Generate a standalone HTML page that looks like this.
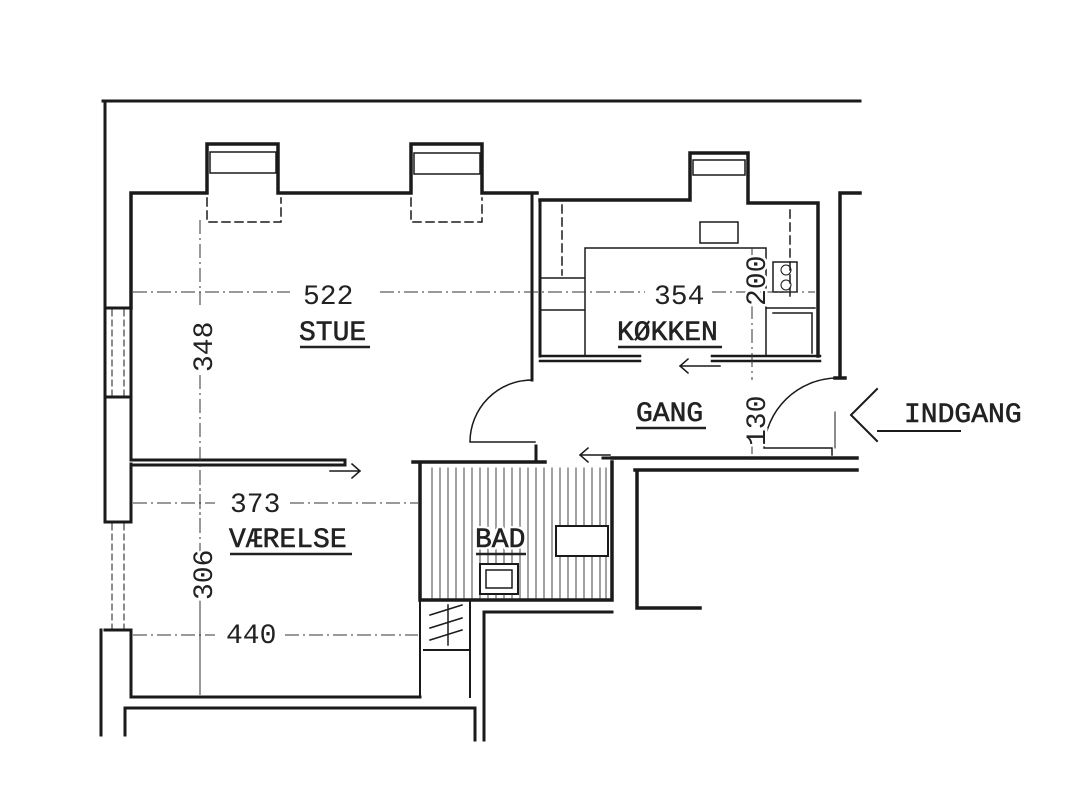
<!DOCTYPE html>
<html><head><meta charset="utf-8"><style>
html,body{margin:0;padding:0;background:#fff;}
svg{display:block;}
text{font-family:"Liberation Mono",monospace;fill:#222;}
</style></head><body>
<svg width="1070" height="798" viewBox="0 0 1070 798" xmlns="http://www.w3.org/2000/svg">
<g stroke="#1a1a1a" fill="none" stroke-linecap="square">
<path d="M103 101 H860" stroke-width="3"/>
<path d="M105 101 V308" stroke-width="3"/>
<path d="M131 308 V193 H207 V144 H278 V193 H411 V144 H482 V193 H537" stroke-width="3.5"/>
<path d="M210 152 H276 V173 H210 Z" stroke-width="1.5"/>
<path d="M414 153 H480 V174 H414 Z" stroke-width="1.5"/>
<path d="M207 198 V222 H281 V198 M411 198 V222 H482 V198" stroke-width="1.5" stroke-dasharray="8 5"/>
<path d="M105 308 H131 M105 397 H131 M105 308 V397 M131 308 V397" stroke-width="3"/>
<path d="M112 310 V395 M124 310 V395" stroke-width="1" stroke-dasharray="6 4"/>
<path d="M105 397 V522 M131 397 V460" stroke-width="3"/>
<path d="M105 522 H131 M105 630 H131 M131 464 V522" stroke-width="3"/>
<path d="M112 524 V628 M124 524 V628" stroke-width="1" stroke-dasharray="6 4"/>
<path d="M131 630 V697 M101 630 V735" stroke-width="3"/>
<path d="M131 460 H345 M131 465 H345 M345 460 V465" stroke-width="3"/>
<path d="M131 697 H420 M125 708 H475 M125 708 V735 M475 708 V740" stroke-width="3"/>
<path d="M420 600 V697 M470 600 V697 M420 600 H470 M424 650 H468" stroke-width="2"/>
<path d="M430 615 L462 605 M430 628 L462 618 M430 640 L462 630 M448 605 V645" stroke-width="1.5"/>
<path d="M484 612 V740" stroke-width="3"/>
<path d="M484 612 H612" stroke-width="3"/>
<path d="M420 465 V600 H612 V462 M413 462 H545" stroke-width="3.5"/>
<g stroke-width="1" stroke="#444">
<path d="M432 468 V598 M440 468 V598 M448 468 V598 M456 468 V598 M464 468 V598 M472 468 V598 M480 468 V598 M488 468 V598 M496 468 V598 M504 468 V598 M512 468 V598 M520 468 V598 M528 468 V598 M536 468 V598 M544 468 V598 M552 468 V598 M560 468 V598 M568 468 V598 M576 468 V598 M584 468 V598 M592 468 V598 M600 468 V598 M606 468 V598"/>
</g>
<rect x="556" y="526" width="52" height="30" fill="#fff" stroke-width="2"/>
<rect x="480" y="564" width="38" height="30" fill="#fff" stroke-width="2"/>
<rect x="486" y="570" width="26" height="18" stroke-width="1.5"/>
<path d="M532 193 V380 M540 200 V356" stroke-width="3"/>
<path d="M540 200 H690 V153 H748 V203 H818 V356" stroke-width="3.5"/>
<path d="M693 160 H745 V175 H693 Z" stroke-width="1.5"/>
<path d="M700 222 H738 V243 H700 Z" stroke-width="1.5"/>
<path d="M585 248 H766 V355 M585 248 V355 M540 278 H585 M540 310 H585" stroke-width="1.5"/>
<path d="M766 308 H815 M773 313 H812 V353" stroke-width="1.5"/>
<rect x="773" y="262" width="24" height="30" stroke-width="1.5"/>
<circle cx="786" cy="270" r="5" stroke-width="1"/><circle cx="786" cy="285" r="5" stroke-width="1"/>
<path d="M562 205 V275 M790 210 V300" stroke-width="1.5" stroke-dasharray="8 5"/>
<path d="M540 356 H640 M540 361 H640 M712 356 H820 M712 361 H820" stroke-width="2.5"/>
<path d="M840 193 V378 M840 193 H860 M835 378 H845" stroke-width="3.5"/>
<path d="M612 458 H857 M635 470 H857 M637 470 V608 H700" stroke-width="3.5"/>
<path d="M532 380 A62 62 0 0 0 470 442 H535" stroke-width="1.5"/>
<path d="M836 378 A74 74 0 0 0 764 448 H832 V455" stroke-width="1.5"/>
<path d="M835 412 V448" stroke-width="1"/>
<path d="M536 446 V460 M603 458 H612" stroke-width="3"/>
<path d="M330 471 H360 M352 464 L360 471 L352 478" stroke-width="1.5"/>
<path d="M580 455 H610 M588 448 L580 455 L588 462" stroke-width="1.5"/>
<path d="M680 366 H720 M688 359 L680 366 L688 373" stroke-width="1.5"/>
<path d="M877 389 L851 415 L877 441 M878 431 H960" stroke-width="2"/>
</g>
<g stroke="#333" stroke-width="1" fill="none" stroke-dasharray="14 4 2 4">
<path d="M133 292 H290 M380 292 H645 M712 292 H815"/>
<path d="M200 220 V305 M200 375 V695"/>
<path d="M133 503 H215 M290 503 H418"/>
<path d="M200 470 V530 M200 605 V695"/>
<path d="M133 635 H215 M285 635 H418"/>
<path d="M752 248 V258 M752 305 V380 M752 440 V460"/>
</g>
<g font-size="28" stroke="#fff" stroke-width="5" style="paint-order:stroke">
<text x="303" y="304">522</text>
<text x="654" y="304">354</text>
<text x="230" y="512">373</text>
<text x="226" y="643">440</text>
<text transform="translate(212 372) rotate(-90)">348</text>
<text transform="translate(212 600) rotate(-90)">306</text>
<text transform="translate(765 306) rotate(-90)">200</text>
<text transform="translate(765 446) rotate(-90)">130</text>
</g>
<g font-size="28" stroke="#222" stroke-width="0.6">
<text x="299" y="340">STUE</text>
<text x="617" y="340">KØKKEN</text>
<text x="636" y="421">GANG</text>
<text x="229" y="547">VÆRELSE</text>
<text x="904" y="422">INDGANG</text>
</g>
<text x="475" y="547" font-size="28" stroke="#fff" stroke-width="5" style="paint-order:stroke">BAD</text>
<text x="475" y="547" font-size="28" stroke="#222" stroke-width="0.6">BAD</text>
<g stroke="#222" stroke-width="2.5">
<path d="M300 347 H370 M618 347 H722 M636 428 H706 M230 554 H352 M476 554 H526"/>
</g>
</svg>
</body></html>
